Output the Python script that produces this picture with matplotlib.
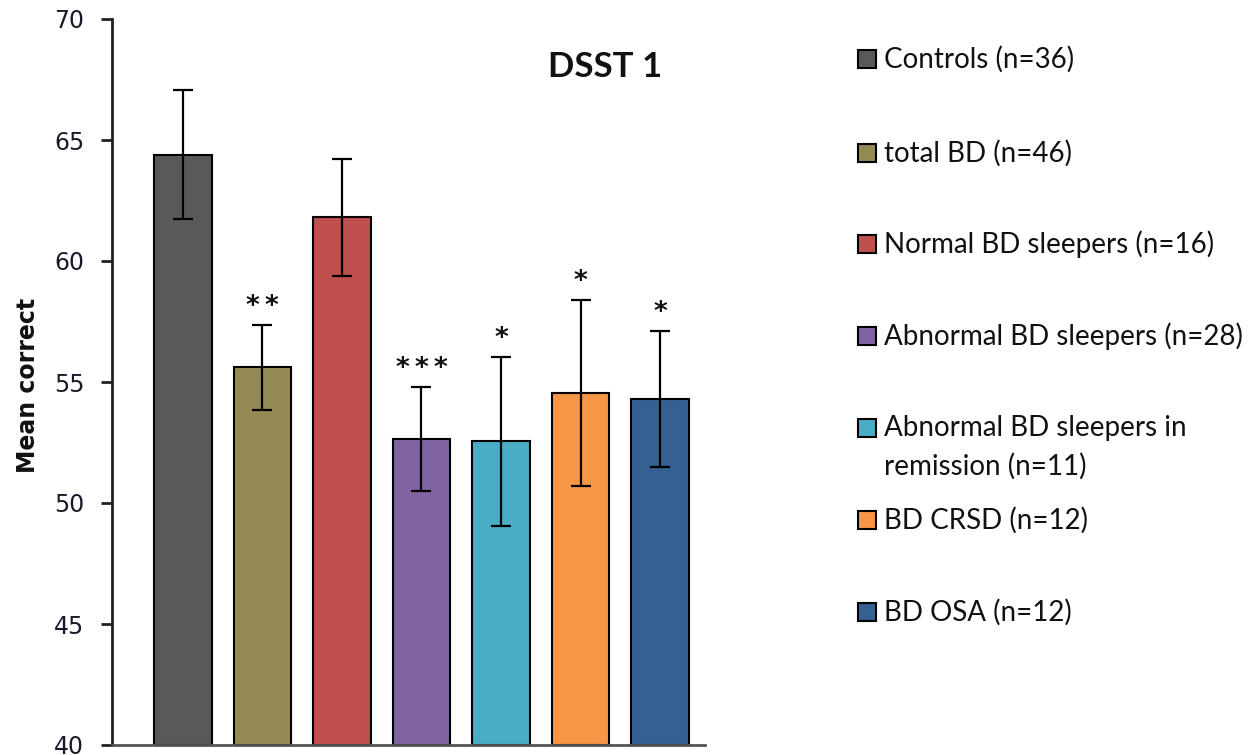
import matplotlib
matplotlib.use("Agg")
import matplotlib.pyplot as plt
from matplotlib.patches import Rectangle
import numpy as np

# ---- data ----
groups = ["Controls (n=36)", "total BD (n=46)", "Normal BD sleepers (n=16)",
          "Abnormal BD sleepers (n=28)", "Abnormal BD sleepers in\nremission (n=11)",
          "BD CRSD (n=12)", "BD OSA (n=12)"]
means = [64.4, 55.6, 61.8, 52.65, 52.55, 54.55, 54.3]
errors = [2.65, 1.75, 2.4, 2.15, 3.5, 3.85, 2.8]
stars = ["", "**", "", "***", "*", "*", "*"]
colors = ["#595959", "#948A54", "#C0504D", "#8064A2", "#4BACC6", "#F79646", "#366092"]
yticks = [40, 45, 50, 55, 60, 65, 70]

W, H = 1249, 755
fig = plt.figure(figsize=(W / 100, H / 100), dpi=100)
ax = fig.add_axes([112 / W, 10 / H, (705 - 112) / W, (745 - 19) / H])

x = np.arange(len(means))
ax.bar(x, np.array(means) - 40, bottom=40, width=0.72, color=colors,
       edgecolor="black", linewidth=1.5, zorder=2)
ax.errorbar(x, means, yerr=errors, fmt="none", ecolor="black",
            elinewidth=1.6, capsize=7.5, capthick=1.6, zorder=3)

for xi, m, e, s in zip(x, means, errors, stars):
    if s:
        ax.text(xi, m + e + 0.2, "\u2009".join(s),
                ha="center", va="bottom", fontsize=19, fontweight="bold",
                family="DejaVu Sans", color="#111111")

ax.set_ylim(40, 70)
ax.set_xlim(-0.893, 6.566)
ax.set_yticks(yticks)
ax.set_xticks([])
for sp in ["top", "right"]:
    ax.spines[sp].set_visible(False)
ax.spines["left"].set_linewidth(2)
ax.spines["left"].set_color("#222222")
ax.spines["bottom"].set_linewidth(2)
ax.spines["bottom"].set_color("#555555")
ax.tick_params(axis="y", direction="out", length=8, width=2, pad=12,
               labelsize=17, labelcolor="#1a1a2a", color="#222222")
for lbl in ax.get_yticklabels():
    lbl.set_family("DejaVu Sans")

ax.set_ylabel("Mean correct", fontsize=17, fontweight="bold", family="DejaVu Sans",
              color="#111111")
ax.yaxis.set_label_coords((40 - 112) / (705 - 112), (745 - 385) / (745 - 19))

fig.text(605 / W, (755 - 67) / H, "DSST 1", ha="center", va="center",
         fontsize=25, fontweight="bold", family="Lato", color="#111111")

# ---- legend (manual) ----
leg_y = [59, 153, 244, 336, 428, 520, 612]
for lab, c, yy in zip(groups, colors, leg_y):
    fig.add_artist(Rectangle((858 / W, (755 - yy - 9) / H), 18 / W, 18 / H,
                             transform=fig.transFigure, facecolor=c,
                             edgecolor="black", linewidth=1.5))
    ty = yy if "\n" not in lab else yy + 19
    fig.text(884 / W, (755 - ty) / H, lab, ha="left", va="center",
             fontsize=20, family="Lato", color="#111111", linespacing=1.55)

fig.savefig("out.png", dpi=100)
